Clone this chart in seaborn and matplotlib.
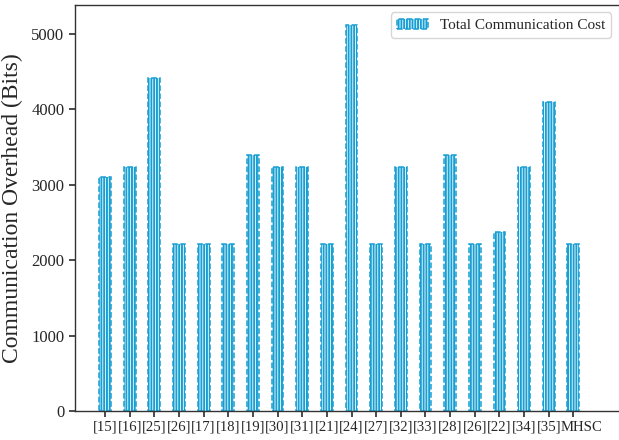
import numpy as np
import pandas as pd
import matplotlib
matplotlib.use("Agg")
import matplotlib.pyplot as plt
import matplotlib.transforms as mtransforms
import seaborn as sns

labels = ["[15]", "[16]", "[25]", "[26]", "[17]", "[18]", "[19]", "[30]", "[31]", "[21]",
          "[24]", "[27]", "[32]", "[33]", "[28]", "[26]", "[22]", "[34]", "[35]", "MHSC"]
costs = [3104, 3232, 4416, 2208, 2208, 2208, 3392, 3232, 3232, 2208,
         5120, 2208, 3232, 2208, 3392, 2208, 2368, 3232, 4096, 2208]
series_name = "Total Communication Cost"

sns.set_theme(style="ticks")
plt.rcParams["font.family"] = ["Liberation Serif", "DejaVu Serif"]
plt.rcParams["hatch.linewidth"] = 1.4

df = pd.DataFrame({"pos": np.arange(len(labels)), "cost": costs})

fig = plt.figure(figsize=(6.19, 4.40), dpi=100)
ax = fig.add_axes([0.121, 0.066, 0.879, 0.923])

color = "#179fd3"
sns.barplot(data=df, x="pos", y="cost", ax=ax, width=0.48, color="white",
            edgecolor=color, linewidth=1.1, linestyle="--", hatch="||||||",
            label=series_name, zorder=2)

ax.set_xticks(np.arange(len(labels)))
ax.set_xticklabels(labels, fontsize=10.6)
ax.set_xlim(-1.22, 20.85)
ax.set_ylim(0, 5385)
ax.set_yticks([0, 1000, 2000, 3000, 4000, 5000])
ax.tick_params(axis="y", labelsize=12, direction="out", length=4, color="#333333")
ax.tick_params(axis="x", direction="out", length=4, color="#333333", pad=3)
ax.set_xlabel("")
ax.set_ylabel("Communication Overhead (Bits)", fontsize=17, labelpad=6)
for s in ["left", "bottom", "top"]:
    ax.spines[s].set_color("#333333")
    ax.spines[s].set_linewidth(1.0)
ax.spines["right"].set_visible(False)

# nudge the last (wider) label slightly right so it does not collide
last = ax.get_xticklabels()[-1]
last.set_transform(last.get_transform() + mtransforms.ScaledTranslation(8 / 100, 0, fig.dpi_scale_trans))

leg = ax.legend(loc="upper right", fontsize=11, frameon=True, fancybox=True,
                edgecolor="#cccccc", handlelength=2.0)

fig.savefig("out.png", dpi=100)
